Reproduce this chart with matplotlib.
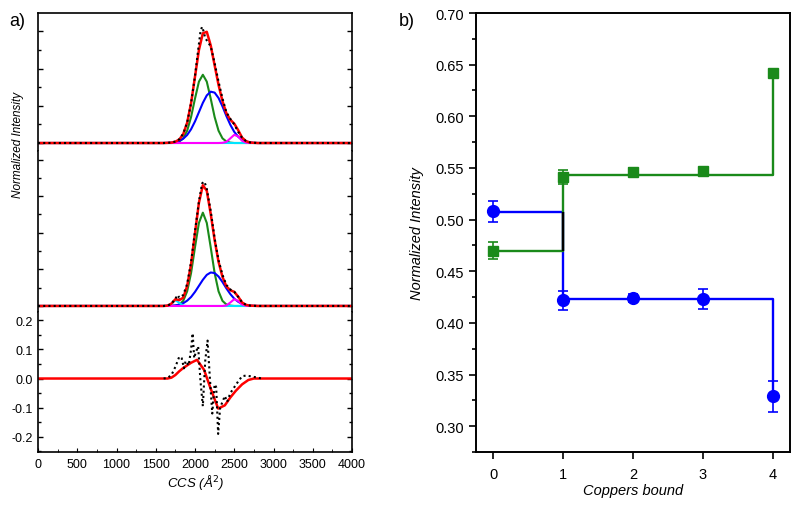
import matplotlib
matplotlib.use("Agg")
import matplotlib.pyplot as plt
from matplotlib.ticker import MultipleLocator

plt.rcParams['font.family'] = ['Liberation Sans', 'DejaVu Sans']
plt.rcParams['axes.unicode_minus'] = False

# ---- panel a) data ----
ccs = [0, 1600, 1650, 1700, 1750, 1800, 1850, 1900, 1950, 2000, 2050, 2100, 2150, 2200,
       2250, 2300, 2350, 2400, 2450, 2500, 2550, 2600, 2650, 2700, 2750, 2800, 4000]

# top trace
top_green = [0, 0, 0, 0, 0.002, 0.008, 0.025, 0.066, 0.140, 0.239, 0.330, 0.367, 0.330, 0.239,
             0.140, 0.066, 0.025, 0.008, 0.002, 0, 0, 0, 0, 0, 0, 0, 0]
top_blue = [0, 0, 0.001, 0.002, 0.005, 0.011, 0.023, 0.043, 0.074, 0.116, 0.166, 0.216, 0.256, 0.276,
            0.271, 0.242, 0.197, 0.145, 0.098, 0.060, 0.034, 0.017, 0.008, 0.003, 0.001, 0, 0]
top_magenta = [0, 0, 0, 0, 0, 0, 0, 0, 0, 0, 0, 0, 0, 0,
               0, 0, 0.001, 0.006, 0.025, 0.044, 0.035, 0.012, 0.002, 0, 0, 0, 0]
top_cyan = [0] * 27
top_red = [0, 0, 0.001, 0.002, 0.007, 0.019, 0.048, 0.109, 0.214, 0.357, 0.500, 0.590, 0.598, 0.525,
           0.418, 0.312, 0.225, 0.160, 0.125, 0.104, 0.069, 0.029, 0.010, 0.003, 0.001, 0, 0]
top_data_x = [0, 1600, 1650, 1700, 1750, 1800, 1850, 1900, 1950, 2000, 2040, 2070, 2090, 2110,
              2130, 2160, 2200, 2250, 2300, 2350, 2400, 2450, 2500, 2550, 2600, 2650, 2700, 2800, 4000]
top_data = [0, 0, 0.001, 0.003, 0.008, 0.020, 0.050, 0.110, 0.215, 0.360, 0.500, 0.600, 0.625, 0.600,
            0.565, 0.545, 0.520, 0.430, 0.330, 0.240, 0.165, 0.130, 0.100, 0.060, 0.028, 0.010, 0.003, 0, 0]

# middle trace
mid_green = [0, 0, 0, 0, 0.002, 0.008, 0.028, 0.080, 0.180, 0.321, 0.454, 0.510, 0.454, 0.321,
             0.180, 0.080, 0.028, 0.008, 0.002, 0, 0, 0, 0, 0, 0, 0, 0]
mid_blue = [0, 0, 0.001, 0.001, 0.003, 0.007, 0.015, 0.029, 0.049, 0.077, 0.110, 0.143, 0.170, 0.183,
            0.180, 0.161, 0.131, 0.096, 0.065, 0.040, 0.023, 0.011, 0.005, 0.002, 0.001, 0, 0]
mid_magenta = [0, 0, 0, 0, 0, 0, 0, 0, 0, 0, 0, 0, 0, 0,
               0, 0, 0, 0.003, 0.019, 0.037, 0.028, 0.008, 0.001, 0, 0, 0, 0]
mid_cyan = [0, 0, 0.001, 0.012, 0.032, 0.017, 0.002, 0, 0, 0, 0, 0, 0, 0,
            0, 0, 0, 0, 0, 0, 0, 0, 0, 0, 0, 0, 0]
mid_red = [0, 0, 0.002, 0.013, 0.037, 0.032, 0.045, 0.109, 0.229, 0.398, 0.564, 0.660, 0.630, 0.504,
           0.360, 0.241, 0.159, 0.107, 0.086, 0.077, 0.051, 0.019, 0.006, 0.002, 0.001, 0, 0]
mid_data_x = [0, 1600, 1650, 1700, 1750, 1780, 1800, 1850, 1900, 1950, 2000, 2050, 2090, 2120,
              2150, 2200, 2250, 2300, 2350, 2400, 2450, 2500, 2550, 2600, 2650, 2700, 2800, 4000]
mid_data = [0, 0, 0.002, 0.012, 0.040, 0.060, 0.045, 0.060, 0.120, 0.240, 0.410, 0.570, 0.670, 0.680,
            0.640, 0.520, 0.370, 0.250, 0.170, 0.115, 0.090, 0.078, 0.050, 0.020, 0.006, 0.002, 0, 0]

# residuals
res_fit_x = [0, 1650, 1700, 1750, 1800, 1850, 1900, 1950, 2025, 2115, 2200, 2295, 2380, 2450,
             2520, 2600, 2680, 2750, 4000]
res_fit = [0, 0, 0.003, 0.012, 0.025, 0.036, 0.045, 0.054, 0.064, 0.030, -0.035, -0.103, -0.092, -0.065,
           -0.042, -0.020, -0.005, 0, 0]
res_data_x = [1600, 1650, 1700, 1750, 1800, 1830, 1860, 1880, 1920, 1950, 1970, 1990, 2010, 2040,
              2070, 2100, 2130, 2160, 2190, 2220, 2250, 2270, 2295, 2320, 2380, 2410, 2450, 2500,
              2550, 2600, 2650, 2700, 2800, 2850]
res_data = [0, 0.002, 0.012, 0.040, 0.075, 0.070, 0.035, 0.060, 0.045, 0.100, 0.155, 0.070, 0.090, 0.110,
            -0.010, -0.095, 0.060, 0.130, 0.000, -0.120, -0.020, -0.030, -0.190, -0.100, -0.060, -0.080,
            -0.050, -0.030, -0.010, 0.008, 0.010, 0.008, 0.003, 0]

# ---- panel b) data ----
coppers = [0, 1, 2, 3, 4]
blue_val = [0.508, 0.422, 0.424, 0.423, 0.329]
blue_err = [0.010, 0.0093, 0.004, 0.0095, 0.015]
blue_fit = [0.507, 0.423, 0.423, 0.423, 0.329]
green_val = [0.470, 0.541, 0.546, 0.547, 0.642]
green_err = [0.008, 0.007, 0.004, 0.002, 0.002]
green_fit = [0.470, 0.543, 0.543, 0.543, 0.642]

RED = '#ff0000'
GREEN = '#1a8a1a'
BLUE = '#0000ff'
MAGENTA = '#ff00ff'
CYAN = '#00e5ff'

fig = plt.figure(figsize=(8, 5.06), dpi=100)

ax_top = fig.add_axes([0.0475, 0.6996, 0.3925, 0.2727])
ax_mid = fig.add_axes([0.0475, 0.3814, 0.3925, 0.3182])
ax_res = fig.add_axes([0.0475, 0.1047, 0.3925, 0.2767])


def draw_fit(ax, green, blue, cyan, magenta, red, dx, data):
    ax.plot(ccs, green, color=GREEN, lw=1.5)
    ax.plot(ccs, blue, color=BLUE, lw=1.5)
    ax.plot(ccs, cyan, color=CYAN, lw=1.5)
    ax.plot(ccs, magenta, color=MAGENTA, lw=1.5)
    ax.plot(ccs, red, color=RED, lw=1.8)
    ax.plot(dx, data, color='black', lw=1.5, ls=(0, (1, 1.5)))


draw_fit(ax_top, top_green, top_blue, top_cyan, top_magenta, top_red, top_data_x, top_data)
draw_fit(ax_mid, mid_green, mid_blue, mid_cyan, mid_magenta, mid_red, mid_data_x, mid_data)
ax_res.plot(res_fit_x, res_fit, color=RED, lw=1.8)
ax_res.plot(res_data_x, res_data, color='black', lw=1.5, ls=(0, (1, 1.5)))

ax_top.set_ylim(-0.043, 0.699)
ax_mid.set_ylim(-0.033, 0.847)
ax_res.set_ylim(-0.252, 0.228)

for ax in (ax_top, ax_mid, ax_res):
    ax.set_xlim(0, 4000)
    ax.tick_params(axis='y', which='both', direction='in', left=True, right=True, labelsize=9,
                   width=1)
    ax.tick_params(axis='y', which='major', length=3.5)
    ax.tick_params(axis='y', which='minor', length=2)
    for s in ax.spines.values():
        s.set_linewidth(1.2)

for ax in (ax_top, ax_mid):
    ax.yaxis.set_major_locator(MultipleLocator(0.2))
    ax.yaxis.set_minor_locator(MultipleLocator(0.1))
    ax.set_yticklabels([])
    ax.set_xticks([])
    ax.spines['bottom'].set_visible(False)
ax_mid.spines['top'].set_visible(False)
ax_res.spines['top'].set_visible(False)

ax_res.yaxis.set_major_locator(MultipleLocator(0.1))
ax_res.yaxis.set_minor_locator(MultipleLocator(0.05))
ax_res.yaxis.set_major_formatter(plt.FormatStrFormatter('%.1f'))
ax_res.xaxis.set_major_locator(MultipleLocator(500))
ax_res.xaxis.set_minor_locator(MultipleLocator(250))
ax_res.tick_params(axis='x', which='both', direction='in', labelsize=9, top=False, pad=4)
ax_res.tick_params(axis='x', which='major', length=3)
ax_res.tick_params(axis='x', which='minor', length=2)
ax_res.set_xlabel('CCS (Å$^2$)', fontsize=9.5, style='italic', labelpad=2)

fig.text(0.023, 1 - 145 / 506, 'Normalized Intensity', rotation=90, fontsize=8.5,
         style='italic', ha='center', va='center')
fig.text(0.012, 1 - 22 / 506, 'a)', fontsize=13, ha='left', va='center')

# ---- panel b) ----
axb = fig.add_axes([0.595, 0.1047, 0.3925, 0.8676])
axb.plot(coppers, blue_fit, color=BLUE, lw=1.7, drawstyle='steps-post')
axb.plot(coppers, green_fit, color=GREEN, lw=1.7, drawstyle='steps-post')
axb.vlines(coppers[1], green_fit[0], blue_fit[0], color='black', lw=1.7)
axb.errorbar(coppers, blue_val, yerr=blue_err, fmt='o', color=BLUE, ms=8.5,
             capsize=3.5, elinewidth=1.2, capthick=1.2)
axb.errorbar(coppers, green_val, yerr=green_err, fmt='s', color=GREEN, ms=6.5,
             capsize=3.5, elinewidth=1.2, capthick=1.2)

axb.set_xlim(-0.243, 4.243)
axb.set_ylim(0.275, 0.70)
axb.set_xticks(coppers)
axb.yaxis.set_major_locator(MultipleLocator(0.05))
axb.yaxis.set_minor_locator(MultipleLocator(0.025))
axb.yaxis.set_major_formatter(plt.FormatStrFormatter('%.2f'))
axb.tick_params(axis='both', which='both', direction='out', labelsize=10.5, width=1.2)
axb.tick_params(axis='both', which='major', length=5)
axb.tick_params(axis='y', which='minor', length=3)
axb.tick_params(axis='x', which='major', pad=6)
for s in axb.spines.values():
    s.set_linewidth(1.4)
axb.set_xlabel('Coppers bound', fontsize=10.5, style='italic', labelpad=1)
axb.set_ylabel('Normalized Intensity', fontsize=10.5, style='italic', labelpad=8)
fig.text(0.499, 1 - 22 / 506, 'b)', fontsize=13, ha='left', va='center')

fig.savefig('out.png', dpi=100)
